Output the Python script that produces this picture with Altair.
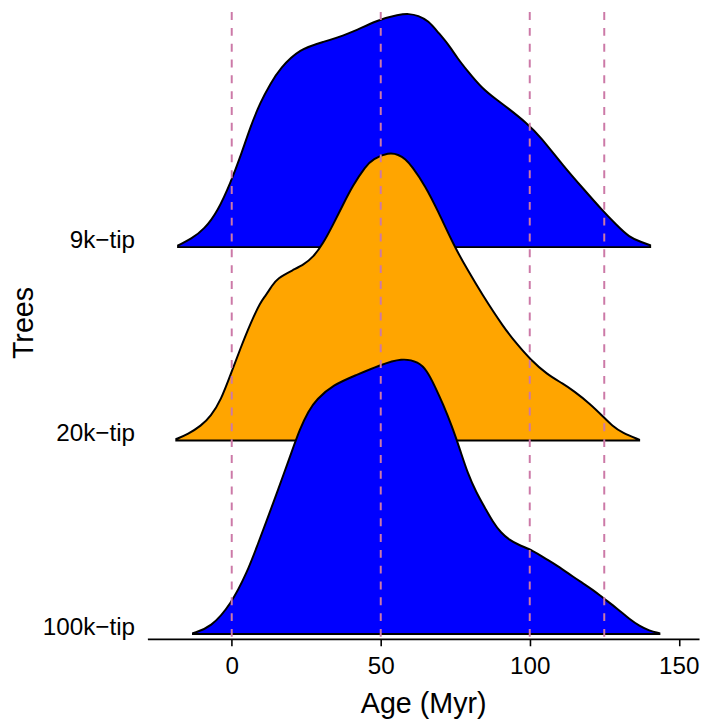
import altair as alt
import pandas as pd

# ---- data ----
tree_names = ["9k−tip", "20k−tip", "100k−tip"]
tree_offsets = [2, 1, 0]
tree_colors = ["#0000FF", "#FFA500", "#0000FF"]

age_9k = [-18.0, -13.6, -9.2, -4.7, -0.3, 3.0, 6.3, 9.6, 13.0, 16.2, 22.8, 30.8, 38.4, 49.3, 56.0,
          59.4, 62.6, 66.0, 69.2, 72.6, 75.8, 79.2, 83.8, 89.2, 92.4, 99.0, 103.5, 111.3, 117.9,
          124.5, 128.9, 133.4, 137.7, 140.4]
dens_9k = [0.009, 0.042, 0.092, 0.185, 0.337, 0.471, 0.623, 0.749, 0.845, 0.924, 1.025, 1.061, 1.096,
           1.177, 1.202, 1.207, 1.197, 1.17, 1.111, 1.05, 0.975, 0.909, 0.823, 0.758, 0.722, 0.641,
           0.573, 0.419, 0.303, 0.187, 0.118, 0.05, 0.025, 0.01]

age_20k = [-18.6, -14.7, -10.3, -7.0, -3.6, -0.3, 3.0, 6.3, 9.6, 11.3, 13.5, 15.2, 20.8, 24.0, 27.4,
           30.6, 34.0, 37.3, 40.6, 45.0, 47.3, 52.7, 56.0, 58.3, 60.4, 64.9, 69.3, 74.8, 79.2, 83.7,
           91.4, 95.9, 100.2, 105.7, 111.3, 114.6, 120.1, 124.5, 127.7, 131.1, 136.7]
dens_20k = [0.008, 0.033, 0.076, 0.126, 0.21, 0.345, 0.48, 0.606, 0.715, 0.747, 0.80, 0.838, 0.884,
            0.908, 0.949, 1.017, 1.116, 1.218, 1.318, 1.419, 1.455, 1.49, 1.478, 1.455, 1.419, 1.318,
            1.184, 1.0, 0.881, 0.763, 0.581, 0.495, 0.419, 0.343, 0.293, 0.258, 0.192, 0.126, 0.076,
            0.04, 0.005]

age_100k = [-13.0, -7.0, -0.3, 5.2, 8.5, 11.8, 14.6, 17.4, 20.1, 22.9, 25.7, 28.4, 34.0, 41.7, 49.5,
            57.2, 62.7, 65.5, 68.2, 71.0, 73.8, 76.5, 79.3, 82.1, 84.8, 87.6, 90.4, 93.1, 95.9, 101.4,
            104.7, 109.2, 114.7, 118.0, 121.3, 124.7, 129.1, 133.5, 136.8, 140.1, 143.5]
dens_100k = [0.004, 0.034, 0.152, 0.32, 0.454, 0.589, 0.706, 0.825, 0.941, 1.061, 1.152, 1.212, 1.288,
             1.338, 1.389, 1.428, 1.406, 1.362, 1.28, 1.185, 1.078, 0.958, 0.825, 0.731, 0.657, 0.58,
             0.522, 0.488, 0.463, 0.429, 0.395, 0.354, 0.294, 0.261, 0.227, 0.185, 0.135, 0.076,
             0.042, 0.017, 0.004]

dashed_at = [0, 50, 100, 125]
x_ticks = [0, 50, 100, 150]

# ---- build table ----
rows = []
for name, off, ages, dens in zip(tree_names, tree_offsets,
                                 [age_9k, age_20k, age_100k],
                                 [dens_9k, dens_20k, dens_100k]):
    for a, d in zip(ages, dens):
        rows.append({"tree": name, "age": a, "top": off + d, "base": off})
df = pd.DataFrame(rows)
rules_df = pd.DataFrame({"age": dashed_at})

FONT = "Liberation Sans"

x_enc = alt.X("age:Q",
              scale=alt.Scale(domain=[-28.3, 156.8], nice=False, zero=False),
              axis=alt.Axis(title="Age (Myr)", values=x_ticks, grid=False,
                            domainColor="black", domainWidth=1.6,
                            tickColor="black", tickWidth=1.6, tickSize=7,
                            labelFontSize=24.5, labelColor="black", labelFont=FONT,
                            labelPadding=9.5, labelFlush=False,
                            titleFontSize=29, titleFont=FONT, titleColor="black",
                            titleFontWeight="normal", titleBaseline="alphabetic",
                            titleY=74))

label_expr = " : ".join(
    [f"datum.value == {o} ? '{n}'" for n, o in zip(tree_names, tree_offsets)]) + " : ''"

y_enc = alt.Y("top:Q",
              scale=alt.Scale(domain=[-0.025, 3.215], nice=False, zero=False),
              axis=alt.Axis(title="Trees", values=tree_offsets, labelExpr=label_expr,
                            grid=False, domain=False, ticks=False,
                            labelFontSize=24.5, labelColor="black", labelFont=FONT,
                            labelAlign="right", labelBaseline="alphabetic",
                            labelPadding=13, labelFlush=False, labelBound=False,
                            titleFontSize=29, titleFont=FONT, titleColor="black",
                            titleFontWeight="normal", titleAngle=270,
                            titleBaseline="alphabetic", titleX=-116, titleY=314,
                            titleAlign="center"))

layers = []
for name, col in zip(tree_names, tree_colors):
    layers.append(
        alt.Chart(df).transform_filter(alt.datum.tree == name)
        .mark_area(color=col, fill=col, stroke="black", strokeWidth=2,
                   interpolate="basis", opacity=1)
        .encode(x=x_enc, y=y_enc, y2="base:Q")
    )

rules = alt.Chart(rules_df).mark_rule(color="#CC79A7", strokeWidth=2,
                                      strokeDash=[8, 8]).encode(x=x_enc)

chart = alt.layer(*layers, rules).properties(
    width=558, height=634,
    autosize=alt.AutoSizeParams(type="none"),
    padding={"left": 141, "top": 0, "right": 2, "bottom": 82},
).configure_view(stroke=None)

chart.save("out.html", embed_options={"renderer": "svg", "actions": False})
